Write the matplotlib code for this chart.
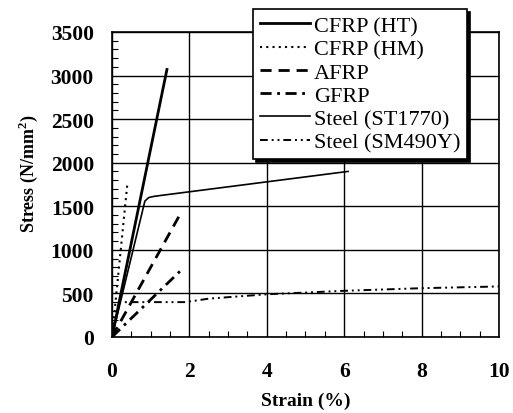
import matplotlib
matplotlib.use("Agg")
import matplotlib.pyplot as plt
from matplotlib.ticker import MultipleLocator

plt.rcParams['font.family'] = ['Liberation Serif', 'DejaVu Serif']
plt.rcParams['mathtext.fontset'] = 'custom'
plt.rcParams['mathtext.rm'] = 'Liberation Serif'
plt.rcParams['mathtext.bf'] = 'Liberation Serif:bold'

# Data (strain %, stress N/mm2)
cfrp_ht_x = [0.0, 1.42]
cfrp_ht_y = [0, 3070]
cfrp_hm_x = [0.0, 0.40]
cfrp_hm_y = [0, 1770]
afrp_x = [0.0, 1.75]
afrp_y = [0, 1400]
gfrp_x = [0.0, 1.77]
gfrp_y = [0, 760]
st1770_x = [0.0, 0.85, 0.95, 1.1, 6.1]
st1770_y = [0, 1560, 1600, 1615, 1900]
sm490_x = [0.0, 0.2, 1.9, 2.5, 4.0, 6.0, 8.0, 10.0]
sm490_y = [0, 400, 400, 440, 490, 530, 560, 580]

labels = ["CFRP (HT)", "CFRP (HM)", "AFRP", "GFRP", "Steel (ST1770)", "Steel (SM490Y)"]
xticks = [0, 2, 4, 6, 8, 10]
yticks = [0, 500, 1000, 1500, 2000, 2500, 3000, 3500]

fig = plt.figure(figsize=(5.13, 4.14), dpi=100)
ax = fig.add_axes([0.2183, 0.1836, 0.7544, 0.7367])

ax.plot(cfrp_ht_x, cfrp_ht_y, color='black', lw=2.0, ls='-', label=labels[0])
ax.plot(cfrp_hm_x, cfrp_hm_y, color='black', lw=1.5, ls=(0, (1, 2)), label=labels[1])
ax.plot(afrp_x, afrp_y, color='black', lw=2.0, ls=(0, (4, 2.5)), label=labels[2])
ax.plot(gfrp_x, gfrp_y, color='black', lw=2.0, ls=(0, (4, 2, 1, 2)), label=labels[3])
ax.plot(st1770_x, st1770_y, color='black', lw=1.2, ls='-', label=labels[4])
ax.plot(sm490_x, sm490_y, color='black', lw=1.4, ls=(0, (4, 2, 1, 2, 1, 2)), label=labels[5])

ax.set_xlim(0, 10)
ax.set_ylim(0, 3500)
ax.set_xticks(xticks)
ax.set_yticks(yticks)
ax.xaxis.set_minor_locator(MultipleLocator(0.5))
ax.yaxis.set_minor_locator(MultipleLocator(100))
ax.grid(True, which='major', color='black', lw=1.0)
ax.tick_params(which='both', direction='in', top=False, right=False)
ax.tick_params(which='major', length=0, labelsize=15.5)
ax.tick_params(which='minor', length=4, width=0.8)
ax.tick_params(axis='x', which='major', pad=17)
ax.tick_params(axis='y', which='major', pad=13)
for lbl in ax.get_xticklabels() + ax.get_yticklabels():
    lbl.set_fontweight('bold')
for s in ax.spines.values():
    s.set_linewidth(1.2)

ax.set_xlabel("Strain (%)", fontsize=14, fontweight='bold')
ax.xaxis.set_label_coords(0.501, -0.18)
ax.set_ylabel(r"Stress (N/mm$^\mathbf{2}$)", fontsize=13, fontweight='bold')
ax.yaxis.set_label_coords(-0.185, 0.54)

leg = ax.legend(loc='upper left', bbox_to_anchor=(253/513, 1 - 10/414), bbox_transform=fig.transFigure,
                fontsize=16, frameon=True, fancybox=False, shadow={'color': 'black', 'alpha': 1},
                labelspacing=0.12, handlelength=2.25, handletextpad=0.2, borderpad=0.3,
                borderaxespad=0)
leg.get_frame().set_edgecolor('black')
leg.get_frame().set_linewidth(1.2)
leg.get_frame().set_alpha(1)

fig.savefig("out.png", dpi=100)
